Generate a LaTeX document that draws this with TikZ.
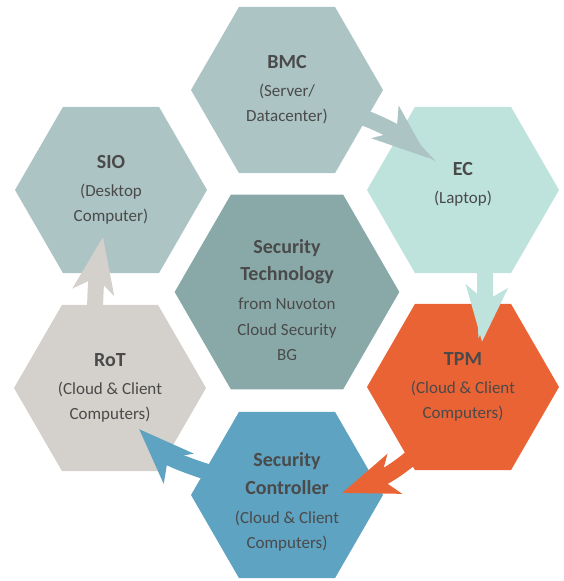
\documentclass[tikz,border=0pt]{standalone}
\usepackage{fontspec}
\setmainfont{Carlito}
\usepackage{tikz}
\usetikzlibrary{shapes.geometric}
\usetikzlibrary{arrows.meta}
\usetikzlibrary{calc}
\definecolor{bmccol}{HTML}{ADC4C4}
\definecolor{eccol}{HTML}{BEE2DC}
\definecolor{tpmcol}{HTML}{EA6335}
\definecolor{sccol}{HTML}{5EA3C2}
\definecolor{rotcol}{HTML}{D4D1CC}
\definecolor{centrecol}{HTML}{89A9A9}
\definecolor{textcol}{HTML}{4A4A4A}
\newcommand{\titre}{\bfseries\fontsize{20}{27}\selectfont}
\newcommand{\haut}[1]{\rule{0pt}{#1}}
\newcommand{\bas}[1]{\rule[-#1]{0pt}{1pt}}
\tikzstyle{hexa}=[
        regular polygon,
        regular polygon sides=6,
        minimum size=192pt,
        inner sep=0pt,
        align=center,
        text=textcol,
        font=\fontsize{17}{25.5}\selectfont
]
\tikzstyle{grandhexa}=[hexa,minimum size=220pt]
\tikzstyle{fleche}=[line width=16pt,-{Stealth[length=55pt,width=41pt,inset=14pt]}]
\begin{document}
\begin{tikzpicture}[x=1pt,y=1pt]
\useasboundingbox (0,0) rectangle (563,581);
\node[grandhexa,fill=centrecol] (centre) at (287,289) {\haut{30pt}{\titre Security}\\[2pt]{\titre Technology}\\[3.5pt]from Nuvoton\\Cloud Security\\BG};
\node[hexa,fill=bmccol] (bmc) at (287,491) {{\titre BMC}\\[2pt](Server/\\Datacenter)};
\node[hexa,fill=eccol] (ec) at (463,391) {{\titre EC}\\[2pt](Laptop)\bas{14pt}};
\node[hexa,fill=tpmcol] (tpm) at (463,194) {{\titre TPM}\\[2pt](Cloud \& Client\\Computers)};
\node[hexa,fill=sccol] (sc) at (287,86) {\haut{28pt}{\titre Security}\\[2pt]{\titre Controller}\\[3.5pt](Cloud \& Client\\Computers)};
\node[hexa,fill=rotcol] (rot) at (110,193) {{\titre RoT}\\[2pt](Cloud \& Client\\Computers)};
\node[hexa,fill=bmccol] (sio) at (111,391) {{\titre SIO}\\[2pt](Desktop\\Computer)};
%Flechesentrehexagones
\draw[fleche,bmccol] ($(bmc)+(70,-25)$) to[out=-20,in=140] ($(ec)+(-35,32)$);
\draw[fleche,eccol] ($(ec)+(22,-65)$) to[out=-90,in=85] ($(tpm)+(19,45)$);
\draw[fleche,tpmcol] ($(tpm)+(-38,-58)$) to[out=225,in=20] ($(sc)+(55,2)$);
\draw[fleche,sccol] ($(sc)+(-59,17)$) to[out=165,in=-45] ($(rot)+(29,-41)$);
\draw[fleche,rotcol] ($(rot)+(-15,70)$) to[out=90,in=-100] ($(sio)+(-8,-47)$);
\end{tikzpicture}
\end{document}
